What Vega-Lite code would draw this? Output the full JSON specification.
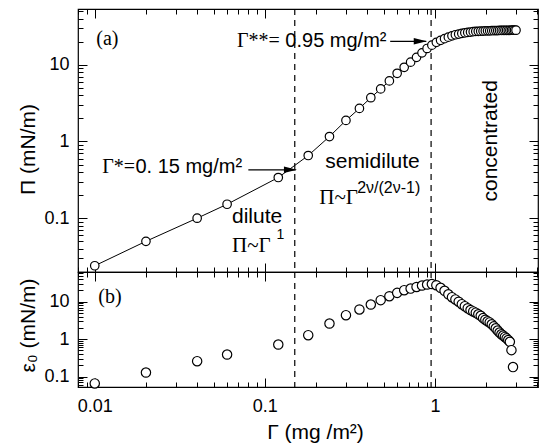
{
  "$schema": "https://vega.github.io/schema/vega-lite/v6.json",
  "padding": {"left": 16, "top": 7, "right": 1, "bottom": 2},
  "spacing": 0,
  "bounds": "flush",
  "config": {
    "view": {"stroke": "black", "strokeWidth": 1.2},
    "axis": {"domain": false, "grid": false, "tickColor": "black", "tickWidth": 1, "labelFont": "Liberation Sans", "labelFontSize": 18, "labelColor": "black", "titleFont": "Liberation Sans", "titleFontSize": 21, "titleFontWeight": "normal", "titleColor": "black", "labelOverlap": false},
    "text": {"font": "Liberation Sans", "color": "black"}
  },
  "datasets": {
    "pi": [
      {"G": 0.01, "P": 0.024}, {"G": 0.02, "P": 0.05}, {"G": 0.04, "P": 0.1}, {"G": 0.06, "P": 0.152},
      {"G": 0.12, "P": 0.339}, {"G": 0.18, "P": 0.656}, {"G": 0.24, "P": 1.16}, {"G": 0.30, "P": 1.88},
      {"G": 0.36, "P": 2.70}, {"G": 0.42, "P": 3.72}, {"G": 0.48, "P": 4.84}, {"G": 0.54, "P": 6.16},
      {"G": 0.60, "P": 7.74}, {"G": 0.66, "P": 9.27}, {"G": 0.72, "P": 10.8}, {"G": 0.78, "P": 12.5},
      {"G": 0.84, "P": 14.3}, {"G": 0.90, "P": 16.3}, {"G": 0.96, "P": 18.0}, {"G": 1.02, "P": 19.6},
      {"G": 1.08, "P": 20.8}, {"G": 1.14, "P": 21.9}, {"G": 1.20, "P": 22.9}, {"G": 1.26, "P": 23.8},
      {"G": 1.32, "P": 24.6}, {"G": 1.38, "P": 25.1}, {"G": 1.44, "P": 25.6}, {"G": 1.50, "P": 26.1},
      {"G": 1.56, "P": 26.4}, {"G": 1.62, "P": 26.7}, {"G": 1.68, "P": 27.0}, {"G": 1.74, "P": 27.2},
      {"G": 1.80, "P": 27.3}, {"G": 1.86, "P": 27.4}, {"G": 1.92, "P": 27.5}, {"G": 1.98, "P": 27.6},
      {"G": 2.04, "P": 27.7}, {"G": 2.10, "P": 27.7}, {"G": 2.16, "P": 27.8}, {"G": 2.22, "P": 27.8},
      {"G": 2.28, "P": 27.9}, {"G": 2.34, "P": 27.9}, {"G": 2.40, "P": 28.0}, {"G": 2.46, "P": 28.0},
      {"G": 2.52, "P": 28.0}, {"G": 2.58, "P": 28.1}, {"G": 2.64, "P": 28.1}, {"G": 2.70, "P": 28.1},
      {"G": 2.76, "P": 28.1}, {"G": 2.82, "P": 28.2}, {"G": 2.88, "P": 28.2}, {"G": 2.94, "P": 28.2},
      {"G": 3.00, "P": 28.2}
    ],
    "eps": [
      {"G": 0.01, "E": 0.066}, {"G": 0.02, "E": 0.129}, {"G": 0.04, "E": 0.259}, {"G": 0.06, "E": 0.39},
      {"G": 0.12, "E": 0.72}, {"G": 0.18, "E": 1.28}, {"G": 0.24, "E": 2.62}, {"G": 0.30, "E": 4.37},
      {"G": 0.36, "E": 6.2}, {"G": 0.42, "E": 8.4}, {"G": 0.48, "E": 11.0}, {"G": 0.54, "E": 14.0},
      {"G": 0.60, "E": 17.2}, {"G": 0.66, "E": 20.3}, {"G": 0.72, "E": 22.4}, {"G": 0.78, "E": 24.7},
      {"G": 0.84, "E": 27.0}, {"G": 0.90, "E": 28.7}, {"G": 0.96, "E": 29.6}, {"G": 1.02, "E": 27.5},
      {"G": 1.08, "E": 23.5}, {"G": 1.14, "E": 19.5}, {"G": 1.20, "E": 15.8}, {"G": 1.26, "E": 13.2},
      {"G": 1.32, "E": 11.5}, {"G": 1.38, "E": 10.0}, {"G": 1.44, "E": 8.6}, {"G": 1.50, "E": 7.6},
      {"G": 1.56, "E": 6.7}, {"G": 1.62, "E": 6.0}, {"G": 1.68, "E": 5.5}, {"G": 1.74, "E": 5.1},
      {"G": 1.80, "E": 4.6}, {"G": 1.86, "E": 4.2}, {"G": 1.92, "E": 3.65}, {"G": 1.98, "E": 3.3},
      {"G": 2.04, "E": 3.0}, {"G": 2.10, "E": 2.8}, {"G": 2.16, "E": 2.5}, {"G": 2.22, "E": 2.2},
      {"G": 2.28, "E": 1.95}, {"G": 2.34, "E": 1.7}, {"G": 2.40, "E": 1.5}, {"G": 2.46, "E": 1.35},
      {"G": 2.52, "E": 1.25}, {"G": 2.58, "E": 1.15}, {"G": 2.64, "E": 1.05}, {"G": 2.70, "E": 0.95},
      {"G": 2.76, "E": 0.85}, {"G": 2.82, "E": 0.51}, {"G": 2.88, "E": 0.18}
    ],
    "vlines": [{"G": 0.15}, {"G": 0.95}]
  },
  "vconcat": [
    {
      "width": 460,
      "height": 263,
      "layer": [
        {
          "data": {"name": "vlines"},
          "mark": {"type": "rule", "color": "black", "strokeWidth": 1.2, "strokeDash": [6, 5]},
          "encoding": {"x": {"field": "G", "type": "quantitative", "scale": {"type": "log", "domain": [0.00797, 4.04], "nice": false}, "axis": null}}
        },
        {
          "data": {"name": "pi"},
          "mark": {"type": "point", "opacity": 0, "size": 4},
          "encoding": {
            "x": {"field": "G", "type": "quantitative", "scale": {"type": "log", "domain": [0.00797, 4.04], "nice": false},
              "axis": {"orient": "bottom", "values": [0.008, 0.009, 0.02, 0.03, 0.04, 0.05, 0.06, 0.07, 0.08, 0.09, 0.2, 0.3, 0.4, 0.5, 0.6, 0.7, 0.8, 0.9, 2, 3, 4], "labels": false, "title": null, "tickSize": -5}},
            "y": {"field": "P", "type": "quantitative", "scale": {"type": "log", "domain": [0.0199, 53.3], "nice": false},
              "axis": {"orient": "left", "values": [0.02, 0.03, 0.04, 0.05, 0.06, 0.07, 0.08, 0.09, 0.2, 0.3, 0.4, 0.5, 0.6, 0.7, 0.8, 0.9, 2, 3, 4, 5, 6, 7, 8, 9, 20, 30, 40, 50], "labels": false, "title": null, "tickSize": -5}}
          }
        },
        {
          "data": {"name": "pi"},
          "mark": {"type": "point", "opacity": 0, "size": 4},
          "encoding": {
            "x": {"field": "G", "type": "quantitative", "scale": {"type": "log", "domain": [0.00797, 4.04], "nice": false},
              "axis": {"orient": "top", "values": [0.008, 0.009, 0.02, 0.03, 0.04, 0.05, 0.06, 0.07, 0.08, 0.09, 0.2, 0.3, 0.4, 0.5, 0.6, 0.7, 0.8, 0.9, 2, 3, 4], "labels": false, "title": null, "tickSize": -5}},
            "y": {"field": "P", "type": "quantitative", "scale": {"type": "log", "domain": [0.0199, 53.3], "nice": false},
              "axis": {"orient": "right", "values": [0.02, 0.03, 0.04, 0.05, 0.06, 0.07, 0.08, 0.09, 0.2, 0.3, 0.4, 0.5, 0.6, 0.7, 0.8, 0.9, 2, 3, 4, 5, 6, 7, 8, 9, 20, 30, 40, 50], "labels": false, "title": null, "tickSize": -5}}
          }
        },
        {
          "data": {"name": "pi"},
          "mark": {"type": "line", "color": "black", "strokeWidth": 1},
          "encoding": {
            "x": {"field": "G", "type": "quantitative", "scale": {"type": "log", "domain": [0.00797, 4.04], "nice": false},
              "axis": {"orient": "bottom", "values": [0.01, 0.1, 1], "labels": false, "title": null, "tickSize": -9}},
            "y": {"field": "P", "type": "quantitative", "scale": {"type": "log", "domain": [0.0199, 53.3], "nice": false},
              "axis": {"orient": "left", "values": [0.1, 1, 10], "format": "~g", "labelPadding": 18, "tickSize": -9,
                "title": "Π (mN/m)", "titleX": -50, "titleY": 140, "titleBaseline": "middle", "titleAngle": 270}}
          }
        },
        {
          "data": {"name": "pi"},
          "mark": {"type": "point", "shape": "circle", "fill": "white", "stroke": "black", "strokeWidth": 1.2, "size": 72, "opacity": 1},
          "encoding": {
            "x": {"field": "G", "type": "quantitative", "scale": {"type": "log", "domain": [0.00797, 4.04], "nice": false},
              "axis": {"orient": "top", "values": [0.01, 0.1, 1], "labels": false, "title": null, "tickSize": -9}},
            "y": {"field": "P", "type": "quantitative", "scale": {"type": "log", "domain": [0.0199, 53.3], "nice": false},
              "axis": {"orient": "right", "values": [0.1, 1, 10], "labels": false, "title": null, "tickSize": -9}}
          }
        },
        {
          "data": {"values": [{"G1": 0.546, "G2": 0.89, "P": 20.2}, {"G1": 0.080, "G2": 0.152, "P": 0.427}]},
          "mark": {"type": "rule", "color": "black", "strokeWidth": 1.2},
          "encoding": {
            "x": {"field": "G1", "type": "quantitative", "axis": null},
            "x2": {"field": "G2"},
            "y": {"field": "P", "type": "quantitative", "axis": null}
          }
        },
        {
          "data": {"values": [{"G": 0.896, "P": 20.2}, {"G": 0.1545, "P": 0.427}]},
          "mark": {"type": "point", "shape": "M -2 -0.5 L 0 0 L -2 0.5 Z", "filled": true, "color": "black", "size": 169, "opacity": 1},
          "encoding": {
            "x": {"field": "G", "type": "quantitative", "axis": null},
            "y": {"field": "P", "type": "quantitative", "axis": null}
          }
        },
        {
          "data": {"values": [{"G": 0.0102, "P": 21.9, "t": "(a)"}]},
          "mark": {"type": "text", "font": "Liberation Serif", "fontSize": 20, "align": "left", "baseline": "middle"},
          "encoding": {"x": {"field": "G", "type": "quantitative", "axis": null}, "y": {"field": "P", "type": "quantitative", "axis": null}, "text": {"field": "t"}}
        },
        {
          "data": {"values": [{"G": 0.0686, "P": 17.2, "t": "Γ**="}, {"G": 0.01105, "P": 0.387, "t": "Γ*="}]},
          "mark": {"type": "text", "font": "Liberation Serif", "fontSize": 20, "align": "left", "baseline": "alphabetic"},
          "encoding": {"x": {"field": "G", "type": "quantitative", "axis": null}, "y": {"field": "P", "type": "quantitative", "axis": null}, "text": {"field": "t"}}
        },
        {
          "data": {"values": [{"G": 0.132, "P": 17.2, "t": "0.95 mg/m²"}, {"G": 0.01734, "P": 0.387, "t": "0. 15 mg/m²"}]},
          "mark": {"type": "text", "font": "Liberation Sans", "fontSize": 20, "align": "left", "baseline": "alphabetic"},
          "encoding": {"x": {"field": "G", "type": "quantitative", "axis": null}, "y": {"field": "P", "type": "quantitative", "axis": null}, "text": {"field": "t"}}
        },
        {
          "data": {"values": [{"G": 0.0641, "P": 0.104, "t": "dilute"}, {"G": 0.2265, "P": 0.543, "t": "semidilute"}]},
          "mark": {"type": "text", "font": "Liberation Sans", "fontSize": 21, "align": "left", "baseline": "middle"},
          "encoding": {"x": {"field": "G", "type": "quantitative", "axis": null}, "y": {"field": "P", "type": "quantitative", "axis": null}, "text": {"field": "t"}}
        },
        {
          "data": {"values": [{"G": 0.0641, "P": 0.036, "t": "Π~Γ"}, {"G": 0.209, "P": 0.154, "t": "Π~Γ"}]},
          "mark": {"type": "text", "font": "Liberation Serif", "fontSize": 21, "align": "left", "baseline": "alphabetic"},
          "encoding": {"x": {"field": "G", "type": "quantitative", "axis": null}, "y": {"field": "P", "type": "quantitative", "axis": null}, "text": {"field": "t"}}
        },
        {
          "data": {"values": [{"G": 0.117, "P": 0.061, "t": "1"}]},
          "mark": {"type": "text", "font": "Liberation Sans", "fontSize": 14, "align": "left", "baseline": "middle"},
          "encoding": {"x": {"field": "G", "type": "quantitative", "axis": null}, "y": {"field": "P", "type": "quantitative", "axis": null}, "text": {"field": "t"}}
        },
        {
          "data": {"values": [{"G": 0.349, "P": 0.249, "t": "2ν/(2ν-1)"}]},
          "mark": {"type": "text", "font": "Liberation Sans", "fontSize": 16, "align": "left", "baseline": "middle"},
          "encoding": {"x": {"field": "G", "type": "quantitative", "axis": null}, "y": {"field": "P", "type": "quantitative", "axis": null}, "text": {"field": "t"}}
        },
        {
          "data": {"values": [{"G": 2.13, "P": 1.02, "t": "concentrated"}]},
          "mark": {"type": "text", "font": "Liberation Sans", "fontSize": 21, "align": "center", "baseline": "middle", "angle": 270},
          "encoding": {"x": {"field": "G", "type": "quantitative", "axis": null}, "y": {"field": "P", "type": "quantitative", "axis": null}, "text": {"field": "t"}}
        }
      ],
      "resolve": {"axis": {"x": "independent", "y": "independent"}}
    },
    {
      "width": 460,
      "height": 115,
      "layer": [
        {
          "data": {"name": "vlines"},
          "mark": {"type": "rule", "color": "black", "strokeWidth": 1.2, "strokeDash": [6, 5]},
          "encoding": {"x": {"field": "G", "type": "quantitative", "scale": {"type": "log", "domain": [0.00797, 4.04], "nice": false}, "axis": null}}
        },
        {
          "data": {"name": "eps"},
          "mark": {"type": "point", "opacity": 0, "size": 4},
          "encoding": {
            "x": {"field": "G", "type": "quantitative", "scale": {"type": "log", "domain": [0.00797, 4.04], "nice": false},
              "axis": {"orient": "bottom", "values": [0.008, 0.009, 0.02, 0.03, 0.04, 0.05, 0.06, 0.07, 0.08, 0.09, 0.2, 0.3, 0.4, 0.5, 0.6, 0.7, 0.8, 0.9, 2, 3, 4], "labels": false, "title": null, "tickSize": -5}},
            "y": {"field": "E", "type": "quantitative", "scale": {"type": "log", "domain": [0.053, 62], "nice": false},
              "axis": {"orient": "left", "values": [0.06, 0.07, 0.08, 0.09, 0.2, 0.3, 0.4, 0.5, 0.6, 0.7, 0.8, 0.9, 2, 3, 4, 5, 6, 7, 8, 9, 20, 30, 40, 50, 60], "labels": false, "title": null, "tickSize": -5}}
          }
        },
        {
          "data": {"name": "eps"},
          "mark": {"type": "point", "opacity": 0, "size": 4},
          "encoding": {
            "x": {"field": "G", "type": "quantitative", "scale": {"type": "log", "domain": [0.00797, 4.04], "nice": false},
              "axis": {"orient": "top", "values": [0.008, 0.009, 0.02, 0.03, 0.04, 0.05, 0.06, 0.07, 0.08, 0.09, 0.2, 0.3, 0.4, 0.5, 0.6, 0.7, 0.8, 0.9, 2, 3, 4], "labels": false, "title": null, "tickSize": -5}},
            "y": {"field": "E", "type": "quantitative", "scale": {"type": "log", "domain": [0.053, 62], "nice": false},
              "axis": {"orient": "right", "values": [0.06, 0.07, 0.08, 0.09, 0.2, 0.3, 0.4, 0.5, 0.6, 0.7, 0.8, 0.9, 2, 3, 4, 5, 6, 7, 8, 9, 20, 30, 40, 50, 60], "labels": false, "title": null, "tickSize": -5}}
          }
        },
        {
          "data": {"name": "eps"},
          "mark": {"type": "point", "opacity": 0, "size": 4},
          "encoding": {
            "x": {"field": "G", "type": "quantitative", "scale": {"type": "log", "domain": [0.00797, 4.04], "nice": false},
              "axis": {"orient": "top", "values": [0.01, 0.1, 1], "labels": false, "title": null, "tickSize": -9}},
            "y": {"field": "E", "type": "quantitative", "scale": {"type": "log", "domain": [0.053, 62], "nice": false},
              "axis": {"orient": "right", "values": [0.1, 1, 10], "labels": false, "title": null, "tickSize": -9}}
          }
        },
        {
          "data": {"name": "eps"},
          "mark": {"type": "point", "shape": "circle", "fill": "white", "stroke": "black", "strokeWidth": 1.2, "size": 87, "opacity": 1},
          "encoding": {
            "x": {"field": "G", "type": "quantitative", "scale": {"type": "log", "domain": [0.00797, 4.04], "nice": false},
              "axis": {"orient": "bottom", "values": [0.01, 0.1, 1], "format": "~g", "labelPadding": 19, "tickSize": -9,
                "title": "Γ (mg /m²)", "titleX": 237, "titleY": 45, "titleBaseline": "middle"}},
            "y": {"field": "E", "type": "quantitative", "scale": {"type": "log", "domain": [0.053, 62], "nice": false},
              "axis": {"orient": "left", "values": [0.1, 1, 10], "format": "~g", "labelPadding": 18, "tickSize": -9,
                "title": "ε₀ (mN/m)", "titleX": -50, "titleY": 53, "titleBaseline": "middle", "titleAngle": 270}}
          }
        },
        {
          "data": {"values": [{"G": 0.0105, "E": 13.4, "t": "(b)"}]},
          "mark": {"type": "text", "font": "Liberation Serif", "fontSize": 20, "align": "left", "baseline": "middle"},
          "encoding": {"x": {"field": "G", "type": "quantitative", "axis": null}, "y": {"field": "E", "type": "quantitative", "axis": null}, "text": {"field": "t"}}
        }
      ],
      "resolve": {"axis": {"x": "independent", "y": "independent"}}
    }
  ]
}
